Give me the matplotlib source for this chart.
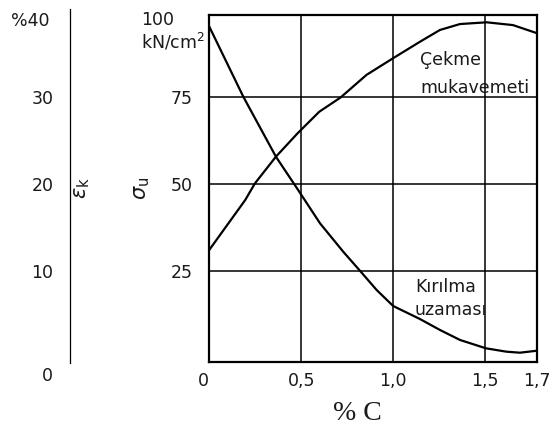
import matplotlib
matplotlib.use('Agg')
import matplotlib.pyplot as plt

# Çekme mukavemeti (sigma_u, kN/cm2) vs % C
carbon_strength = [0, 0.195, 0.248, 0.3625, 0.480, 0.598, 0.714, 0.855, 1.0,
                   1.145, 1.254, 1.363, 1.508, 1.651, 1.78]
strength = [31.0, 45.3, 50.1, 57.8, 64.5, 70.7, 74.8, 81.3, 86.1,
            90.8, 94.2, 95.9, 96.4, 95.6, 93.3]

# Kırılma uzaması (epsilon_k, %) vs % C
carbon_elong = [0, 0.185, 0.3625, 0.483, 0.602, 0.728, 0.819, 0.910, 1.0,
                1.145, 1.254, 1.363, 1.504, 1.616, 1.689, 1.78]
elongation = [38.06, 30.0, 23.1, 19.28, 15.45, 12.19, 10.0, 7.78, 5.94,
              4.45, 3.19, 2.04, 1.08, 0.69, 0.575, 0.80]

x_ticks = [0, 0.5, 1.0, 1.5, 1.78]
x_labels = ['0', '0,5', '1,0', '1,5', '1,7']
sigma_ticks = [25, 50, 75]
eps_ticks = [10, 20, 30]

SIGMA_LIM = (-1.24, 98.5)
EPS_RATIO = 0.4  # 40 % on the left scale sits level with 100 kN/cm2
FS = 12.5
TXT = '#1a1a1a'

plt.rcParams['font.family'] = ['DejaVu Sans']
fig = plt.figure(figsize=(5.58, 4.25), dpi=100)

# main box with the grid
ax = fig.add_axes([0.3751, 0.1482, 0.5867, 0.8165])
ax.set_xlim(0, 1.78)
ax.set_ylim(*SIGMA_LIM)
ax.set_xticks(x_ticks)
ax.set_xticklabels(x_labels, fontsize=FS)
ax.set_yticks(sigma_ticks)
ax.set_yticklabels([str(v) for v in sigma_ticks], fontsize=FS)
ax.tick_params(axis='both', length=0, colors=TXT)
ax.tick_params(axis='y', pad=12)
ax.tick_params(axis='x', pad=7)
ax.get_xticklabels()[0].set_ha('right')
ax.grid(True, color='black', linewidth=1.1)
for sp in ax.spines.values():
    sp.set_linewidth(1.6)

ax.plot(carbon_strength, strength, color='black', linewidth=1.6)

# elongation curve on its own scale, same box
ax_e = ax.twinx()
ax_e.set_ylim(SIGMA_LIM[0] * EPS_RATIO, SIGMA_LIM[1] * EPS_RATIO)
ax_e.plot(carbon_elong, elongation, color='black', linewidth=1.6)
ax_e.set_yticks([])
for sp in ax_e.spines.values():
    sp.set_visible(False)

ax.text(1.145, 84.1, 'Çekme', fontsize=FS, color=TXT, va='baseline')
ax.text(1.145, 76.0, 'mukavemeti', fontsize=FS, color=TXT, va='baseline')
ax.text(1.118, 18.9, 'Kırılma', fontsize=FS, color=TXT, va='baseline')
ax.text(1.118, 12.3, 'uzaması', fontsize=FS, color=TXT, va='baseline')

# left epsilon scale, only a thin line with labels
ax_l = fig.add_axes([0.1254, 0.1452, 0.0005, 0.8344])
ax_l.set_ylim(-0.64, 40.13)
ax_l.set_xticks([])
ax_l.set_yticks(eps_ticks)
ax_l.set_yticklabels([str(v) for v in eps_ticks], fontsize=FS)
ax_l.tick_params(axis='y', length=0, pad=12, colors=TXT)
for name, sp in ax_l.spines.items():
    sp.set_visible(name == 'left')
ax_l.spines['left'].set_linewidth(0.9)
ax_l.patch.set_visible(False)

# remaining labels
fig.text(49 / 558, 1 - 12 / 425, '%40', fontsize=FS, color=TXT, ha='right', va='top')
fig.text(53 / 558, 1 - 367 / 425, '0', fontsize=FS, color=TXT, ha='right', va='top')
fig.text(141 / 558, 1 - 25 / 425, '100', fontsize=FS, color=TXT, ha='left', va='baseline')
fig.text(141 / 558, 1 - 48 / 425, 'kN/cm$^2$', fontsize=FS, color=TXT, ha='left', va='baseline')
fig.text(82.5 / 558, 1 - 188 / 425, r'$\epsilon_{\mathrm{k}}$', fontsize=15, rotation=90,
         ha='center', va='center', color=TXT)
fig.text(142 / 558, 1 - 188 / 425, r'$\sigma_{\mathrm{u}}$', fontsize=15, rotation=90,
         ha='center', va='center', color=TXT)
fig.text(357 / 558, 1 - 420 / 425, '% C', fontsize=20, family='Liberation Serif',
         ha='center', va='baseline', color=TXT)

fig.savefig('out.png', dpi=100)
